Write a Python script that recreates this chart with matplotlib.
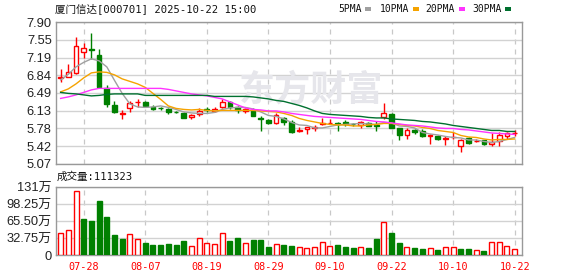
import numpy as np
import matplotlib.pyplot as plt
from matplotlib.patches import Rectangle

# daily candles, 2025-07-23 .. 2025-10-22 (60 trading days)
opens = [6.78, 6.81, 6.88, 7.31, 7.37, 7.25, 6.59, 6.25, 6.06, 6.18,
         6.30, 6.31, 6.21, 6.19, 6.17, 6.11, 6.09, 6.01, 6.06, 6.16,
         6.13, 6.20, 6.30, 6.20, 6.13, 6.13, 5.98, 5.95, 5.88, 5.98,
         5.91, 5.72, 5.76, 5.79, 5.87, 5.88, 5.88, 5.90, 5.87, 5.84,
         5.89, 5.84, 6.00, 6.07, 5.78, 5.64, 5.75, 5.72, 5.62, 5.63,
         5.56, 5.60, 5.42, 5.58, 5.52, 5.54, 5.46, 5.53, 5.62, 5.68]
highs = [6.97, 7.07, 7.60, 7.49, 7.68, 7.37, 6.65, 6.33, 6.15, 6.33,
         6.36, 6.33, 6.25, 6.21, 6.19, 6.13, 6.10, 6.06, 6.18, 6.20,
         6.20, 6.36, 6.33, 6.22, 6.19, 6.19, 6.03, 5.96, 6.08, 6.01,
         5.95, 5.81, 5.81, 5.85, 5.98, 5.96, 5.90, 5.95, 5.88, 5.92,
         5.90, 5.92, 6.29, 6.09, 5.79, 5.79, 5.76, 5.77, 5.66, 5.65,
         5.62, 5.70, 5.56, 5.60, 5.56, 5.55, 5.68, 5.70, 5.71, 5.75]
lows = [6.71, 6.80, 6.87, 7.19, 7.16, 6.60, 6.20, 6.09, 5.97, 6.11,
        6.21, 6.20, 6.15, 6.15, 6.07, 6.08, 5.98, 5.97, 6.03, 6.10,
        6.10, 6.18, 6.16, 6.08, 6.08, 6.02, 5.73, 5.87, 5.87, 5.85,
        5.69, 5.70, 5.66, 5.73, 5.85, 5.86, 5.73, 5.83, 5.82, 5.78,
        5.82, 5.73, 5.96, 5.78, 5.54, 5.57, 5.67, 5.61, 5.46, 5.55,
        5.45, 5.56, 5.30, 5.46, 5.50, 5.44, 5.42, 5.43, 5.57, 5.62]
closes = [6.80, 6.90, 7.43, 7.38, 7.35, 6.61, 6.26, 6.11, 6.08, 6.28,
          6.31, 6.23, 6.17, 6.18, 6.11, 6.10, 5.99, 6.05, 6.13, 6.15,
          6.17, 6.30, 6.21, 6.15, 6.17, 6.03, 5.97, 5.88, 6.05, 5.90,
          5.70, 5.74, 5.80, 5.81, 5.88, 5.89, 5.87, 5.87, 5.86, 5.91,
          5.83, 5.83, 6.08, 5.79, 5.64, 5.75, 5.70, 5.62, 5.64, 5.56,
          5.58, 5.61, 5.54, 5.48, 5.53, 5.46, 5.50, 5.65, 5.68, 5.69]

ma5 = [6.75, 6.86, 7.01, 7.10, 7.17, 7.13, 7.01, 6.74, 6.48, 6.27,
       6.21, 6.20, 6.21, 6.23, 6.20, 6.16, 6.11, 6.09, 6.08, 6.08,
       6.10, 6.16, 6.19, 6.20, 6.20, 6.17, 6.11, 6.04, 6.02, 5.97,
       5.90, 5.85, 5.84, 5.79, 5.79, 5.82, 5.85, 5.86, 5.87, 5.88,
       5.87, 5.86, 5.90, 5.89, 5.83, 5.82, 5.79, 5.70, 5.67, 5.65,
       5.62, 5.60, 5.59, 5.55, 5.55, 5.52, 5.50, 5.52, 5.56, 5.60]
ma10 = [6.51, 6.57, 6.67, 6.79, 6.89, 6.91, 6.90, 6.85, 6.77, 6.72,
        6.67, 6.60, 6.48, 6.36, 6.23, 6.18, 6.16, 6.15, 6.16, 6.14,
        6.13, 6.14, 6.14, 6.14, 6.14, 6.14, 6.13, 6.12, 6.11, 6.08,
        6.04, 5.98, 5.94, 5.91, 5.88, 5.86, 5.85, 5.85, 5.83, 5.83,
        5.85, 5.86, 5.88, 5.88, 5.86, 5.84, 5.83, 5.80, 5.78, 5.74,
        5.72, 5.70, 5.64, 5.61, 5.60, 5.57, 5.55, 5.56, 5.56, 5.57]
ma20 = [6.38, 6.41, 6.45, 6.50, 6.55, 6.58, 6.58, 6.58, 6.58, 6.58,
        6.58, 6.58, 6.58, 6.58, 6.56, 6.53, 6.50, 6.47, 6.45, 6.43,
        6.40, 6.37, 6.31, 6.25, 6.19, 6.16, 6.15, 6.13, 6.13, 6.11,
        6.08, 6.06, 6.04, 6.02, 6.01, 6.00, 5.99, 5.98, 5.97, 5.96,
        5.94, 5.92, 5.91, 5.89, 5.87, 5.85, 5.84, 5.83, 5.81, 5.79,
        5.78, 5.78, 5.76, 5.75, 5.73, 5.71, 5.69, 5.68, 5.67, 5.66]
ma30 = [6.50, 6.48, 6.47, 6.45, 6.43, 6.44, 6.46, 6.47, 6.47, 6.47,
        6.47, 6.44, 6.44, 6.44, 6.44, 6.44, 6.44, 6.44, 6.44, 6.44,
        6.42, 6.42, 6.42, 6.42, 6.42, 6.41, 6.39, 6.37, 6.34, 6.32,
        6.28, 6.24, 6.19, 6.13, 6.08, 6.06, 6.05, 6.04, 6.03, 6.02,
        6.00, 5.99, 5.99, 5.97, 5.96, 5.95, 5.94, 5.92, 5.91, 5.89,
        5.87, 5.84, 5.82, 5.80, 5.78, 5.76, 5.74, 5.74, 5.72, 5.72]

# volume in 万, direction vs previous close (R up / G down)
volume = [42, 47.7, 123, 69.7, 65.8, 104.5, 73.5, 38.7, 31, 40,
          30.3, 23.2, 19.4, 19.4, 21.3, 19.4, 27.1, 17.4, 32.2, 23.2,
          21.3, 42, 27.1, 32.9, 23.2, 29, 29, 16.1, 21.3, 19.4,
          18.1, 15.5, 13.5, 15.5, 24.5, 17.4, 19.4, 15.5, 13.5, 15.5,
          13.5, 31, 63.2, 42.6, 23.2, 15.5, 13.5, 11.6, 13.5, 9.7,
          15.5, 15.5, 11.6, 11.6, 9.0, 7.7, 24.5, 24.5, 17.4, 11.13]
vol_dir = list("RRRGGGGGGR" "RGGGGGGRRR" "RRGGRGGGRG"
               "GRRRRRGGGR" "GGRGGRGGRG" "RRGGRGRRRR")

tick_pos = [3, 11, 19, 27, 35, 43, 51, 59]
tick_labels = ['07-28', '08-07', '08-19', '08-29', '09-10', '09-22', '10-10', '10-22']
price_ticks = [5.07, 5.42, 5.78, 6.13, 6.49, 6.84, 7.19, 7.55, 7.90]
vol_ticks = [0, 32.75, 65.50, 98.25, 131]
vol_tick_labels = ['0', '32.75万', '65.50万', '98.25万', '131万']

RED = '#ff0000'
GREEN = '#008000'
FRAME = '#999999'
GRID = '#d2d2d2'
cjk = ['Liberation Sans', 'Noto Sans CJK SC']
mono = ['DejaVu Sans Mono', 'Noto Sans CJK SC']

fig = plt.figure(figsize=(5.78, 2.76), dpi=100)
ax = fig.add_axes([56/578, 112/276, 466/578, 141.7/276])
axv = fig.add_axes([56/578, 21/276, 466/578, 67.7/276])

x = np.arange(len(closes))
o = np.array(opens); c = np.array(closes)
up = c >= o
w = 0.62

for a in (ax, axv):
    a.set_xlim(-0.6, 59.95)
    for s in a.spines.values():
        s.set_color(FRAME)
        s.set_linewidth(1)
    a.set_xticks(tick_pos)
    a.tick_params(length=0, labelsize=9.3, colors='#222222', pad=3)
    for t in tick_pos:
        a.axvline(t, color='#c8c8c8', lw=0.9, ls=(0, (4, 4)), zorder=0)

# price panel
ax.set_ylim(5.07, 7.90)
ax.set_yticks(price_ticks)
ax.set_yticklabels(['%.2f' % v for v in price_ticks], family='Liberation Sans')
for v in price_ticks:
    ax.axhline(v, color=GRID, lw=1, zorder=0)
ax.set_xticklabels([])

ax.text(0.547, 0.52, '东方财富', transform=ax.transAxes, ha='center', va='center',
        fontsize=26, fontweight='bold', color='#e6e6eb', family='Noto Sans CJK SC', zorder=0.5)

cols = np.where(up, RED, GREEN)
ax.vlines(x, lows, highs, colors=cols, lw=1, zorder=2)
body_lo = np.minimum(o, c)
body_h = np.maximum(np.abs(c - o), 0.004)
ax.bar(x, body_h, bottom=body_lo, width=w, facecolor=np.where(up, 'white', GREEN),
       edgecolor=cols, linewidth=1, zorder=3)

ax.plot(x, ma5, color='#a0a0a0', lw=1, zorder=4)
ax.plot(x, ma10, color='#f5a300', lw=1, zorder=4)
ax.plot(x, ma20, color='#ff33ff', lw=1, zorder=4)
ax.plot(x, ma30, color='#00702f', lw=1, zorder=4)

# volume panel
axv.set_ylim(0, 131)
axv.set_yticks(vol_ticks)
axv.set_yticklabels(vol_tick_labels, family=cjk)
for v in vol_ticks:
    axv.axhline(v, color=GRID, lw=1, zorder=0)
vup = np.array([d == 'R' for d in vol_dir])
axv.bar(x, volume, width=0.65, facecolor=np.where(vup, 'white', GREEN),
        edgecolor=np.where(vup, RED, GREEN), linewidth=1, zorder=3)
axv.set_xticklabels(tick_labels, family='DejaVu Sans Mono', fontsize=7.3, color=RED)
axv.tick_params(axis='x', colors=RED, pad=5)

# header texts
fig.text(55/578, 1 - 9/276, '厦门信达[000701] 2025-10-22 15:00', family=mono,
         fontsize=7.6, va='center', ha='left', color='#111111')
fig.text(57/578, 1 - 177/276, '成交量:111323', family=mono,
         fontsize=7.6, va='center', ha='left', color='#111111')

legend = [('5PMA', 338, 365, '#a0a0a0'), ('10PMA', 380, 413, '#f5a300'),
          ('20PMA', 425, 459, '#ff33ff'), ('30PMA', 472, 505, '#00702f')]
for name, tx, sx, col in legend:
    fig.text(tx/578, 1 - 9/276, name, family='DejaVu Sans Mono', fontsize=7,
             va='center', ha='left', color='#111111')
    fig.add_artist(Rectangle((sx/578, 1 - 11/276), 6/578, 4/276, transform=fig.transFigure,
                             facecolor=col, edgecolor='none'))

fig.savefig('out.png', dpi=100)
